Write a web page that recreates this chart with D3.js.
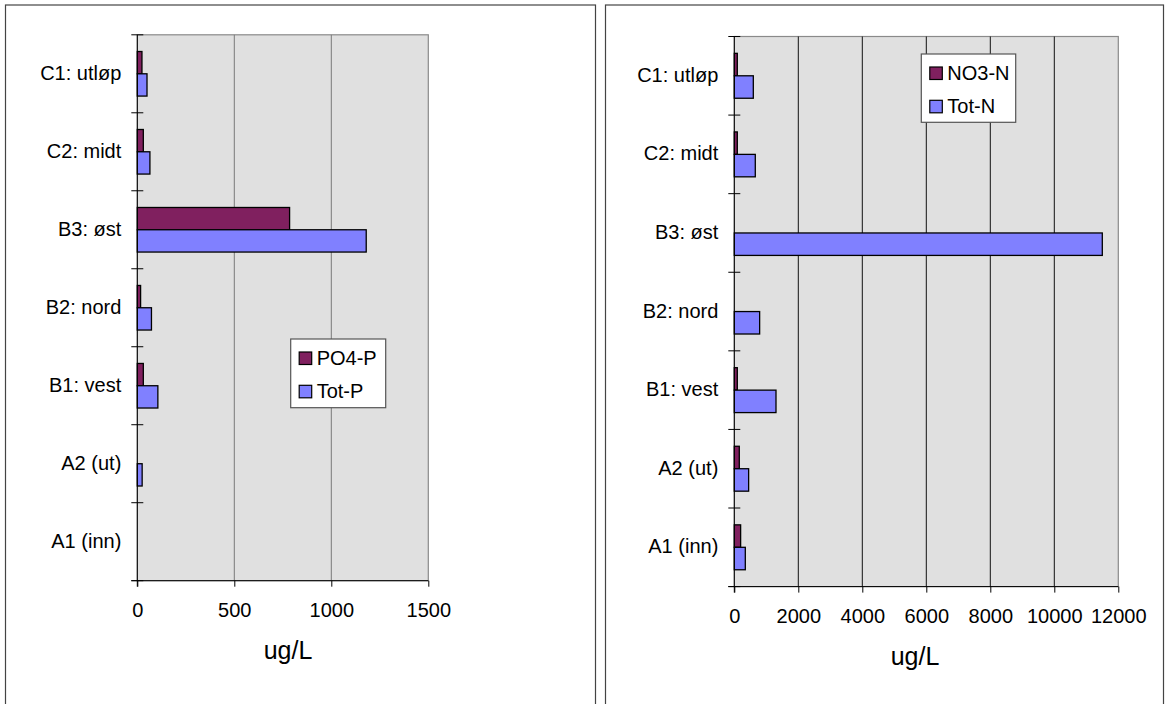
<!DOCTYPE html>
<html><head><meta charset="utf-8">
<script src="https://cdn.jsdelivr.net/npm/d3@7"></script>
<style>
html,body{margin:0;padding:0;background:#fff;}
svg{display:block;font-family:"Liberation Sans",Arial,sans-serif;}
</style></head>
<body>
<svg id="c" width="1169" height="704"></svg>
<script>
// Categories, top to bottom as displayed
const categories = ["C1: utløp", "C2: midt", "B3: øst", "B2: nord", "B1: vest", "A2 (ut)", "A1 (inn)"];
// Phosphorus panel (ug/L)
const po4P = [24, 31, 785, 17, 31, null, null];
const totP = [50, 65, 1180, 73, 106, 25, null];
const pTicks = [0, 500, 1000, 1500];
// Nitrogen panel (ug/L)
const no3N = [94, 94, null, null, 94, 156, 198];
const totN = [594, 656, 11500, 792, 1303, 448, 344];
const nTicks = [0, 2000, 4000, 6000, 8000, 10000, 12000];
const seriesColors = ["#80205f", "#8080ff"];
const unitLabel = "ug/L";

const svg = d3.select("#c");
const FS = 20;

function panel(cfg) {
  const g = svg.append("g");
  // outer frame
  g.append("rect").attr("x", cfg.frame[0]).attr("y", 5).attr("width", cfg.frame[1] - cfg.frame[0]).attr("height", 730)
    .attr("fill", "#fff").attr("stroke", "#444").attr("stroke-width", 1.2);

  const x = d3.scaleLinear().domain([0, cfg.max]).range([cfg.x0, cfg.x1]);
  const y = d3.scaleBand().domain(categories).range([cfg.y0, cfg.y1]).paddingInner(0).paddingOuter(0);
  const sub = d3.scaleBand().domain([0, 1]).range([0, y.bandwidth()]).paddingInner(0).paddingOuter(0.75);

  // plot area
  g.append("rect").attr("x", cfg.x0).attr("y", cfg.y0).attr("width", cfg.x1 - cfg.x0).attr("height", cfg.y1 - cfg.y0)
    .attr("fill", "#e0e0e0").attr("stroke", "#8a8a8a").attr("stroke-width", 1.2);

  // gridlines
  g.selectAll(".grid").data(cfg.ticks.slice(1, -1)).join("line")
    .attr("x1", d => x(d)).attr("x2", d => x(d)).attr("y1", cfg.y0).attr("y2", cfg.y1)
    .attr("stroke", cfg.gridColor).attr("stroke-width", 1);

  // bars
  cfg.series.forEach((vals, si) => {
    g.selectAll(".bar" + si).data(categories.map((c, i) => ({c, v: vals[i]})).filter(d => d.v != null)).join("rect")
      .attr("x", x(0)).attr("y", d => y(d.c) + sub(si)).attr("width", d => x(d.v) - x(0)).attr("height", sub.bandwidth())
      .attr("fill", seriesColors[si]).attr("stroke", "#000").attr("stroke-width", 1.3);
  });

  // value axis (bottom)
  const xa = g.append("g").attr("transform", `translate(0,${cfg.y1})`)
    .call(d3.axisBottom(x).tickValues(cfg.ticks).tickSize(6).tickSizeOuter(0).tickPadding(0).tickFormat(d3.format("d")));
  xa.select(".domain").remove();
  xa.selectAll("line").attr("stroke", "#000");
  xa.selectAll("text").attr("font-size", FS).attr("fill", "#000").attr("font-family", "Liberation Sans, Arial, sans-serif")
    .attr("dy", null).attr("y", 36.5);
  g.append("line").attr("x1", cfg.x0 - 6).attr("x2", cfg.x1).attr("y1", cfg.y1).attr("y2", cfg.y1).attr("stroke", "#000");

  // category axis
  g.append("line").attr("x1", cfg.x0).attr("x2", cfg.x0).attr("y1", cfg.y0).attr("y2", cfg.y1 + 6).attr("stroke", "#000");
  const bounds = categories.map(c => y(c)).concat([cfg.y1]);
  g.selectAll(".ctick").data(bounds).join("line")
    .attr("x1", cfg.x0 - 6).attr("x2", cfg.x0 + 6).attr("y1", d => d).attr("y2", d => d)
    .attr("stroke", "#000").attr("stroke-width", 1);
  g.selectAll(".clab").data(categories).join("text")
    .attr("x", cfg.x0 - 16).attr("y", d => y(d) + y.bandwidth() / 2 + 6)
    .attr("text-anchor", "end").attr("font-size", FS).attr("fill", "#000").text(d => d);

  // axis title
  g.append("text").attr("x", cfg.titleX).attr("y", cfg.y1 + 78).attr("text-anchor", "middle")
    .attr("font-size", 25).attr("fill", "#000").text(unitLabel);

  // legend
  const L = cfg.legend;
  g.append("rect").attr("x", L.x).attr("y", L.y).attr("width", L.w).attr("height", L.h)
    .attr("fill", "#fff").attr("stroke", "#555").attr("stroke-width", 1.2);
  cfg.names.forEach((n, i) => {
    const yy = L.y + 13 + i * 33.3;
    g.append("rect").attr("x", L.x + 8.5).attr("y", yy).attr("width", 12.5).attr("height", 12.5)
      .attr("fill", seriesColors[i]).attr("stroke", "#000").attr("stroke-width", 1.2);
    g.append("text").attr("x", L.x + 26).attr("y", yy + 12.5).attr("font-size", FS).attr("fill", "#000").text(n);
  });
}

panel({
  frame: [5.5, 595.5], x0: 137.3, x1: 428.3, y0: 34.8, y1: 580.7, max: 1500, ticks: pTicks,
  gridColor: "#7a7a7a", series: [po4P, totP], names: ["PO4-P", "Tot-P"], titleX: 288,
  legend: {x: 290.7, y: 339, w: 95, h: 68.7}
});
panel({
  frame: [605.5, 1163.5], x0: 734.3, x1: 1118.3, y0: 36.5, y1: 586.6, max: 12000, ticks: nTicks,
  gridColor: "#111", series: [no3N, totN], names: ["NO3-N", "Tot-N"], titleX: 915,
  legend: {x: 921.3, y: 54, w: 94.4, h: 68.3}
});
</script>
</body></html>
